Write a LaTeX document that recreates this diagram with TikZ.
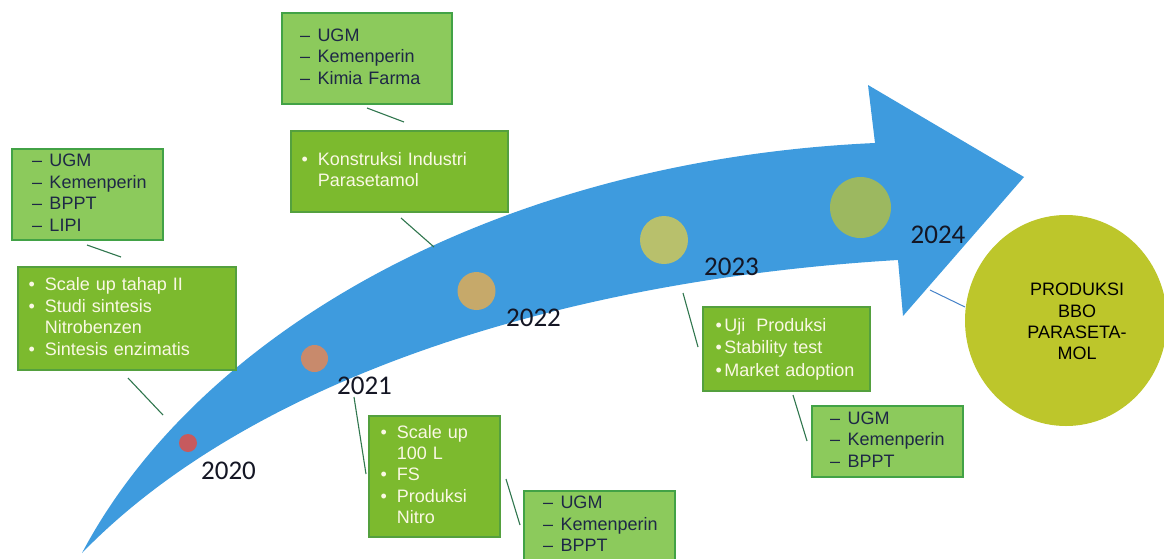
\documentclass[tikz,border=0pt]{standalone}
\usepackage{fontspec}
\setmainfont{Liberation Sans}
\newfontfamily\yearfont{Carlito}
\usetikzlibrary{shapes.geometric}

\definecolor{arrowblue}{RGB}{62,155,222}
\definecolor{actfill}{RGB}{124,186,46}
\definecolor{actedge}{RGB}{84,160,62}
\definecolor{partfill}{RGB}{140,202,92}
\definecolor{partedge}{RGB}{66,162,70}
\definecolor{parttext}{RGB}{30,40,70}
\definecolor{acttext}{RGB}{250,248,228}
\definecolor{linkgreen}{RGB}{48,118,78}
\definecolor{linkblue}{RGB}{70,130,200}
\definecolor{goalfill}{RGB}{189,198,43}
\definecolor{yearink}{RGB}{20,22,36}
\definecolor{dotA}{RGB}{198,90,94}
\definecolor{dotB}{RGB}{200,138,108}
\definecolor{dotC}{RGB}{198,169,106}
\definecolor{dotD}{RGB}{184,192,108}
\definecolor{dotE}{RGB}{156,184,96}

\tikzset{
  boxtext/.style={font=\fontsize{18}{21.5}\selectfont, align=left, inner ysep=0pt, line width=1.2pt},
  actbox/.style={boxtext, draw=actedge, fill=actfill, text=acttext},
  partbox/.style={boxtext, draw=partedge, fill=partfill, text=parttext},
  yearlabel/.style={font=\yearfont\fontsize{27}{27}\selectfont, text=yearink, inner sep=0pt},
  dot/.style={circle, inner sep=0pt, draw=none},
  link/.style={draw=linkgreen, line width=1.1pt},
}

\newcommand{\dashlist}[1]{\begin{tabular}{@{}l@{\hspace{7.5pt}}l@{}}#1\end{tabular}}
\newcommand{\bulletlist}[1]{\begin{tabular}{@{}l@{\hspace{10pt}}l@{}}#1\end{tabular}}

\begin{document}
\begin{tikzpicture}[x=1pt,y=-1pt]
\useasboundingbox (0,0) rectangle (1164,558);
\clip (0,0) rectangle (1164,558);

% curved timeline arrow
\fill[arrowblue] (82,553) .. controls (200,330) and (500,160) .. (875,143)
  -- (868,85) -- (1024,177) -- (903,316) -- (898,260)
  .. controls (560,280) and (250,380) .. (82,553) -- cycle;

% milestone dots
\node[dot, fill=dotA, minimum size=18pt] (d20) at (188,443) {};
\node[dot, fill=dotB, minimum size=27pt] (d21) at (314.5,358.5) {};
\node[dot, fill=dotC, minimum size=38pt] (d22) at (476.5,291) {};
\node[dot, fill=dotD, minimum size=48pt] (d23) at (664,240) {};
\node[dot, fill=dotE, minimum size=61pt] (d24) at (860.5,207.5) {};

% year labels
\node[yearlabel] (y20) at (228.5,471) {2020};
\node[yearlabel] (y21) at (364.5,386) {2021};
\node[yearlabel] (y22) at (533.5,317.5) {2022};
\node[yearlabel] (y23) at (731.5,266.5) {2023};
\node[yearlabel] (y24) at (938,235) {2024};

% goal
\node[ellipse, fill=goalfill, minimum width=202pt, minimum height=211pt, inner sep=0pt] (goal) at (1066,320.5) {};
\node[font=\fontsize{18}{21.2}\selectfont, align=center, inner sep=0pt, text=black] (goaltext) at (1077,321.5)
  {PRODUKSI\\BBO\\PARASETA-\\MOL};

% 2020
\node[partbox, minimum width=151pt, minimum height=91pt, text width=111pt, inner xsep=20pt] (p20) at (87.5,194.5)
  {\dashlist{\textendash & UGM\\ \textendash & Kemenperin\\ \textendash & BPPT\\ \textendash & LIPI}};
\node[actbox, minimum width=218pt, minimum height=103pt, text width=197pt, inner xsep=10.5pt] (a20) at (127,318.5)
  {\bulletlist{\textbullet & Scale up tahap II\\ \textbullet & Studi sintesis\\ & Nitrobenzen\\ \textbullet & Sintesis enzimatis}};

% 2022
\node[partbox, minimum width=170pt, minimum height=91pt, text width=134pt, inner xsep=18pt] (p22) at (367,58.5)
  {\dashlist{\textendash & UGM\\ \textendash & Kemenperin\\ \textendash & Kimia Farma}};
\node[actbox, minimum width=217pt, minimum height=81pt, text width=196pt, inner xsep=10.5pt] (a22) at (399.5,171.5)
  {\bulletlist{\textbullet & Konstruksi Industri\\ & Parasetamol}};

% 2021
\node[actbox, minimum width=131pt, minimum height=121pt, text width=108pt, inner xsep=11.5pt,
      font=\fontsize{18}{21.3}\selectfont] (a21) at (434.5,476.5)
  {\bulletlist{\textbullet & Scale up\\ & 100 L\\ \textbullet & FS\\ \textbullet & Produksi\\ & Nitro}};
\node[partbox, minimum width=151pt, minimum height=70pt, text width=113pt, inner xsep=19pt] (p21) at (599.5,526)
  {\dashlist{\textendash & UGM\\ \textendash & Kemenperin\\ \textendash & BPPT}};

% 2023
\node[actbox, minimum width=167pt, minimum height=84pt, text width=142pt, inner xsep=12.5pt,
      font=\fontsize{18}{22.5}\selectfont] (a23) at (786.5,349)
  {\textbullet\hspace{2.5pt}Uji\hspace{11pt}Produksi\\ \textbullet\hspace{2.5pt}Stability test\\ \textbullet\hspace{2.5pt}Market adoption};
\node[partbox, minimum width=151pt, minimum height=71pt, text width=115pt, inner xsep=18pt] (p23) at (887.5,441.5)
  {\dashlist{\textendash & UGM\\ \textendash & Kemenperin\\ \textendash & BPPT}};

% connector end points
\coordinate (k1a) at (87,245);   \coordinate (k1b) at (121,257);
\coordinate (k2a) at (128,378);  \coordinate (k2b) at (163,415);
\coordinate (k3a) at (367,108);  \coordinate (k3b) at (404,122);
\coordinate (k4a) at (401,218);  \coordinate (k4b) at (434,247);
\coordinate (k5a) at (354,397);  \coordinate (k5b) at (366,474);
\coordinate (k6a) at (506,479);  \coordinate (k6b) at (520,525);
\coordinate (k7a) at (683,293);  \coordinate (k7b) at (698,347);
\coordinate (k8a) at (793,395);  \coordinate (k8b) at (807,441);
\coordinate (k9a) at (930,290);  \coordinate (k9b) at (965,307);

\draw[link] (k1a) -- (k1b);
\draw[link] (k2a) -- (k2b);
\draw[link] (k3a) -- (k3b);
\draw[link] (k4a) -- (k4b);
\draw[link] (k5a) -- (k5b);
\draw[link] (k6a) -- (k6b);
\draw[link] (k7a) -- (k7b);
\draw[link] (k8a) -- (k8b);
\draw[draw=linkblue, line width=1pt] (k9a) -- (k9b);
\end{tikzpicture}
\end{document}
